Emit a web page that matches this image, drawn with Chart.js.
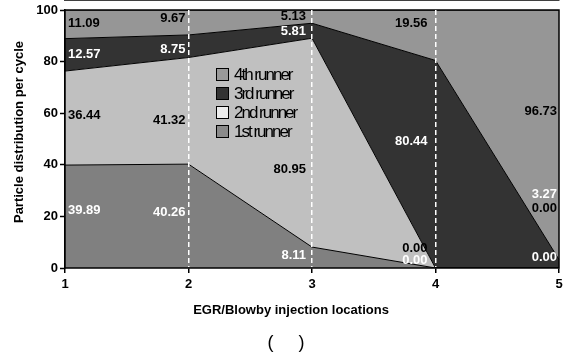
<!DOCTYPE html>
<html>
<head>
<meta charset="utf-8">
<script src="https://cdn.jsdelivr.net/npm/chart.js@4.4.0/dist/chart.umd.min.js"></script>
<style>
  html, body { margin: 0; padding: 0; background: #fff; }
  #wrap { width: 568px; height: 360px; }
</style>
</head>
<body>
<div id="wrap"><canvas id="myChart" width="568" height="360"></canvas></div>
<script>
// injection locations along the x axis
const locations = ['1', '2', '3', '4', '5'];
const yTicks = [0, 20, 40, 60, 80, 100];

// particle share per runner (%)
const runner1 = [39.89, 40.26, 8.11, 0.00, 0.00];
const runner2 = [36.44, 41.32, 80.95, 0.00, 0.00];
const runner3 = [12.57, 8.75, 5.81, 80.44, 3.27];
const runner4 = [11.09, 9.67, 5.13, 19.56, 96.73];

const seriesNames = ['1st runner', '2nd runner', '3rd runner', '4th runner'];
const seriesColors = ['#808080', '#c0c0c0', '#333333', '#969696'];
const legendBoxColors = ['#8a8a8a', '#ececec', '#333333', '#9a9a9a'];
const labelColors = ['#ffffff', '#000000', '#ffffff', '#000000'];

// nudges for the value labels (px, from the middle of each band)
const labelShiftY = [
    [-6, -4, -2, -8, -11],
    [-3, 10, 27, -20, -60],
    [0, 3, 1, -23, -69],
    [-1, -4, 0, -12, -23]
];
const labelShiftX = [3, -3, -6, -8, -2];

const allSeries = [runner1, runner2, runner3, runner4];

const valueLabels = {
    id: 'valueLabels',
    afterDatasetsDraw(chart) {
        const ctx = chart.ctx;
        const x = chart.scales.x;
        const y = chart.scales.y;
        const a = chart.chartArea;

        // frame around the plot
        ctx.save();
        ctx.strokeStyle = '#000';
        ctx.lineWidth = 1.5;
        ctx.strokeRect(a.left, a.top, a.right - a.left, a.bottom - a.top);
        ctx.restore();

        ctx.save();
        ctx.font = 'bold 13px "Liberation Sans", Arial, sans-serif';
        ctx.textBaseline = 'middle';
        const base = [0, 0, 0, 0, 0];
        allSeries.forEach(function (vals, i) {
            vals.forEach(function (v, j) {
                const mid = y.getPixelForValue(base[j] + v / 2);
                const xp = x.getPixelForValue(j) + labelShiftX[j];
                ctx.fillStyle = labelColors[i];
                ctx.textAlign = j === 0 ? 'left' : 'right';
                ctx.fillText(v.toFixed(2), xp, mid + labelShiftY[i][j]);
            });
            vals.forEach(function (v, j) { base[j] += v; });
        });
        ctx.restore();

        // legend inside the plot, top entry first
        ctx.save();
        ctx.font = '17px "Liberation Sans", Arial, sans-serif';
        ctx.letterSpacing = '-2px';
        ctx.textAlign = 'left';
        ctx.textBaseline = 'middle';
        for (let k = 0; k < 4; k++) {
            const i = 3 - k;
            const cy = 74 + k * 19;
            ctx.fillStyle = legendBoxColors[i];
            ctx.fillRect(216, cy - 6, 12, 12);
            ctx.strokeStyle = '#000';
            ctx.lineWidth = 1;
            ctx.strokeRect(216.5, cy - 5.5, 12, 12);
            ctx.fillStyle = '#000';
            ctx.fillText(seriesNames[i], 234, cy + 1);
        }
        ctx.restore();

        // axis titles
        ctx.save();
        ctx.fillStyle = '#000';
        ctx.font = 'bold 13px "Liberation Sans", Arial, sans-serif';
        ctx.textAlign = 'center';
        ctx.textBaseline = 'middle';
        ctx.fillText('EGR/Blowby injection locations', 291, 310);
        ctx.translate(19, 132);
        ctx.rotate(-Math.PI / 2);
        ctx.fillText('Particle distribution per cycle', 0, 0);
        ctx.restore();

        ctx.save();
        ctx.fillStyle = '#000';
        ctx.font = '18px "Liberation Sans", Arial, sans-serif';
        ctx.textAlign = 'center';
        ctx.textBaseline = 'middle';
        ctx.fillText('(     )', 286, 343);
        ctx.restore();
    }
};

const datasets = allSeries.map(function (vals, i) {
    return {
        label: seriesNames[i],
        data: vals,
        backgroundColor: seriesColors[i],
        borderColor: '#000',
        borderWidth: 1,
        pointRadius: 0,
        tension: 0,
        fill: i === 0 ? 'origin' : '-1'
    };
});

const tickFont = { family: '"Liberation Sans", Arial, sans-serif', size: 13, weight: 'bold' };

new Chart(document.getElementById('myChart').getContext('2d'), {
    type: 'line',
    data: { labels: locations, datasets: datasets },
    plugins: [valueLabels],
    options: {
        responsive: false,
        animation: false,
        devicePixelRatio: 1,
        layout: { padding: { top: 10, right: 9, left: 0, bottom: 0 } },
        plugins: { legend: { display: false }, tooltip: { enabled: false } },
        scales: {
            x: {
                offset: false,
                ticks: { color: '#000', font: tickFont, padding: 4, maxRotation: 0 },
                grid: {
                    color: function (c) {
                        const idx = c.index;
                        return idx > 0 && idx < locations.length - 1 ? '#ffffff' : 'rgba(0,0,0,0)';
                    },
                    lineWidth: 1.5,
                    tickColor: '#000',
                    tickLength: 5,
                    tickBorderDash: [],
                    tickWidth: 1.5,
                    z: 1
                },
                // in v4 the grid line dash lives on border.dash
                border: { display: true, color: '#000', width: 1.5, dash: [5, 3] },
                afterFit: function (s) { s.height = 92; }
            },
            y: {
                stacked: true,
                min: 0,
                max: 100,
                afterBuildTicks: function (s) { s.ticks = yTicks.map(function (v) { return { value: v }; }); },
                ticks: { color: '#000', font: tickFont, padding: 2 },
                grid: { drawOnChartArea: false, tickColor: '#000', tickLength: 5, tickWidth: 1.5 },
                border: { display: true, color: '#000', width: 1.5 },
                afterFit: function (s) { s.width = 65; }
            }
        }
    }
});
</script>
</body>
</html>
